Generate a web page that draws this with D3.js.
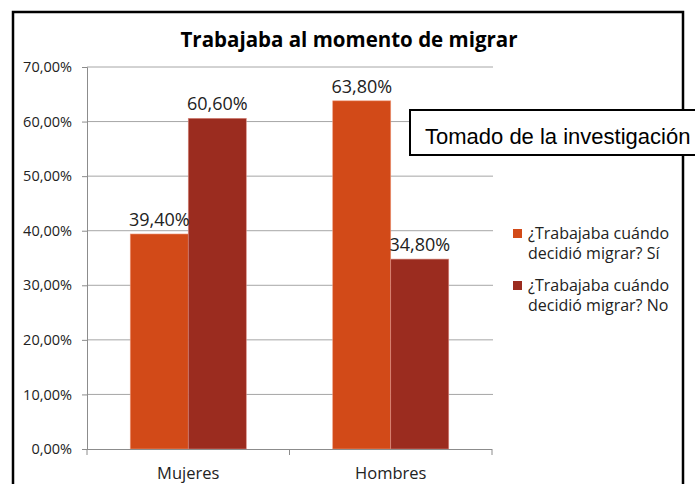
<!DOCTYPE html>
<html>
<head>
<meta charset="utf-8">
<script src="https://cdn.jsdelivr.net/npm/d3@7"></script>
<style>
  html, body { margin: 0; padding: 0; background: #fff; }
  svg { display: block; }
</style>
</head>
<body>
<div id="chart"></div>
<script>
// datos del grafico
const categories = ['Mujeres', 'Hombres'];
const seriesNames = ['¿Trabajaba cuándo decidió migrar? Sí', '¿Trabajaba cuándo decidió migrar? No'];
const valuesSi = [0.394, 0.638];
const valuesNo = [0.606, 0.348];
const yTicks = [0, 0.1, 0.2, 0.3, 0.4, 0.5, 0.6, 0.7];
const colors = ['#d24a18', '#9b2c1f'];

const width = 695, height = 484;
const font = '"Open Sans", "Noto Sans", sans-serif';

const es = d3.formatLocale({decimal: ',', thousands: '.', grouping: [3], currency: ['', '€'], percent: '%'});
const fmtTick = es.format('.2%');
const fmtLabel = es.format('.2%');

const svg = d3.select('#chart').append('svg')
    .attr('width', width)
    .attr('height', height);

// marco exterior
svg.append('path')
    .attr('d', 'M13,490 V12 H683 V110 M683,156 V490')
    .attr('fill', 'none')
    .attr('stroke', '#000')
    .attr('stroke-width', 2.5);

// titulo
svg.append('text')
    .attr('x', 349)
    .attr('y', 47)
    .attr('text-anchor', 'middle')
    .attr('font-family', font)
    .attr('font-weight', 'bold')
    .attr('font-size', 20.5)
    .attr('fill', '#000')
    .text('Trabajaba al momento de migrar');

const y = d3.scaleLinear().domain([0, 0.7]).range([449, 67]);
const x0 = d3.scaleBand().domain(categories).range([87, 492])
    .paddingInner(0.427).paddingOuter(0.2135);
const x1 = d3.scaleBand().domain([0, 1]).range([0, x0.bandwidth()]);

// lineas de cuadricula
svg.append('g')
    .selectAll('line')
    .data(yTicks.filter(d => d > 0))
    .join('line')
    .attr('x1', 87).attr('x2', 493)
    .attr('y1', d => y(d)).attr('y2', d => y(d))
    .attr('stroke', '#a6a6a6')
    .attr('stroke-width', 1);

// eje y
const yAxis = svg.append('g')
    .attr('transform', 'translate(87,0)')
    .call(d3.axisLeft(y).tickValues(yTicks).tickFormat(fmtTick).tickSize(5).tickPadding(10));
yAxis.select('.domain').attr('stroke', '#8c8c8c');
yAxis.selectAll('.tick line').attr('stroke', '#8c8c8c');
yAxis.selectAll('.tick text')
    .attr('font-family', font)
    .attr('font-size', 14.5)
    .attr('fill', '#222');

// barras
const rows = categories.map((c, i) => ({cat: c, vals: [valuesSi[i], valuesNo[i]]}));
const groups = svg.append('g')
    .selectAll('g')
    .data(rows)
    .join('g')
    .attr('transform', d => `translate(${x0(d.cat)},0)`);

groups.selectAll('rect')
    .data(d => d.vals.map((v, k) => ({v, k})))
    .join('rect')
    .attr('x', d => x1(d.k))
    .attr('width', x1.bandwidth())
    .attr('y', d => y(d.v))
    .attr('height', d => y(0) - y(d.v))
    .attr('fill', d => colors[d.k])
    .attr('stroke', d => d.k === 0 ? '#ec9a7c' : '#d98a80')
    .attr('stroke-width', 0.6);

groups.selectAll('text')
    .data(d => d.vals.map((v, k) => ({v, k})))
    .join('text')
    .attr('x', d => x1(d.k) + x1.bandwidth() / 2)
    .attr('y', d => y(d.v) - 8)
    .attr('text-anchor', 'middle')
    .attr('font-family', font)
    .attr('font-size', 18)
    .attr('fill', '#222')
    .text(d => fmtLabel(d.v));

// eje x
const xEdges = [87, 87 + x0.step(), 87 + 2 * x0.step()];
svg.append('line')
    .attr('x1', 87).attr('x2', 492)
    .attr('y1', 449.5).attr('y2', 449.5)
    .attr('stroke', '#8c8c8c');
svg.append('g')
    .selectAll('line')
    .data(xEdges)
    .join('line')
    .attr('x1', d => d).attr('x2', d => d)
    .attr('y1', 449).attr('y2', 455)
    .attr('stroke', '#8c8c8c');
svg.append('g')
    .selectAll('text')
    .data(categories)
    .join('text')
    .attr('x', d => x0(d) + x0.bandwidth() / 2)
    .attr('y', 479)
    .attr('text-anchor', 'middle')
    .attr('font-family', font)
    .attr('font-size', 16.5)
    .attr('fill', '#222')
    .text(d => d);

// leyenda
const legend = svg.append('g')
    .selectAll('g')
    .data(seriesNames)
    .join('g')
    .attr('transform', (d, i) => `translate(513,${229 + i * 52})`);
legend.append('rect')
    .attr('width', 9).attr('height', 9)
    .attr('fill', (d, i) => colors[i]);
legend.append('text')
    .attr('font-family', font)
    .attr('font-size', 16)
    .attr('fill', '#222')
    .selectAll('tspan')
    .data(d => [d.slice(0, 17), d.slice(18)])
    .join('tspan')
    .attr('x', 15)
    .attr('y', (d, i) => 10 + i * 20)
    .text(d => d);

// cuadro superpuesto
svg.append('rect')
    .attr('x', 410).attr('y', 110)
    .attr('width', 300).attr('height', 45)
    .attr('fill', '#fff')
    .attr('stroke', '#000')
    .attr('stroke-width', 2);
svg.append('text')
    .attr('x', 425)
    .attr('y', 144)
    .attr('font-family', '"Liberation Sans", Arial, sans-serif')
    .attr('font-size', 22)
    .attr('fill', '#000')
    .text('Tomado de la investigación');
</script>
</body>
</html>
